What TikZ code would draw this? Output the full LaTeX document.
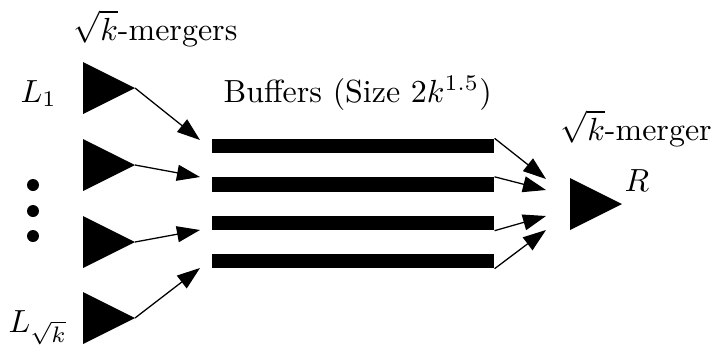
\documentclass[tikz,border=0pt]{standalone}
\usetikzlibrary{arrows.meta}
\begin{document}
\begin{tikzpicture}[x=0.3125pt,y=-0.3125pt,
  merger/.style={fill=black},
  bar/.style={fill=black,draw=none,inner sep=0pt,minimum width=88.1pt,minimum height=4.4pt},
  arr/.style={line width=0.4pt,-{Triangle[length=7.2pt,width=5pt]}},
  lbl/.style={inner sep=0pt,anchor=base west}]
\useasboundingbox (0,0) rectangle (711,344);
% left mergers
\foreach \i/\y in {1/88,2/165,3/242,4/318}{
  \fill[merger] (83,\y-26) -- (135,\y) -- (83,\y+26) -- cycle;
  \coordinate (t\i) at (135,\y);
}
% buffers
\node[bar] (b1) at (353,146) {};
\node[bar] (b2) at (353,184.5) {};
\node[bar] (b3) at (353,223) {};
\node[bar] (b4) at (353,261) {};
% arrows in
\coordinate (e1) at (200,140);
\coordinate (e2) at (200,177);
\coordinate (e3) at (200,230);
\coordinate (e4) at (200,268);
\foreach \i in {1,...,4}{ \draw[arr] (t\i) -- (e\i); }
% right merger
\fill[merger] (570,178) -- (622,204) -- (570,230) -- cycle;
\coordinate (r1) at (546,179);
\coordinate (r2) at (546,190);
\coordinate (r3) at (546,216);
\coordinate (r4) at (546,230);
\draw[arr] (b1.north east) -- (r1);
\draw[arr] (b2.north east) -- (r2);
\draw[arr] (b3.south east) -- (r3);
\draw[arr] (b4.south east) -- (r4);
% dots
\foreach \y [count=\j] in {185,211,236}{ \fill (33,\y) circle (6); \coordinate (d\j) at (33,\y); }
% labels
\node[lbl] (lm) at (73,40) {$\sqrt{k}$-mergers};
\node[lbl] (l1) at (20,102) {$L_1$};
\node[lbl] (lk) at (8,332) {$L_{\sqrt{k}}$};
\node[lbl] (bl) at (223,102) {Buffers (Size $2k^{1.5}$)};
\node[lbl] (rm) at (560,140) {$\sqrt{k}$-merger};
\node[lbl] (rl) at (624,191) {$R$};
\end{tikzpicture}
\end{document}
